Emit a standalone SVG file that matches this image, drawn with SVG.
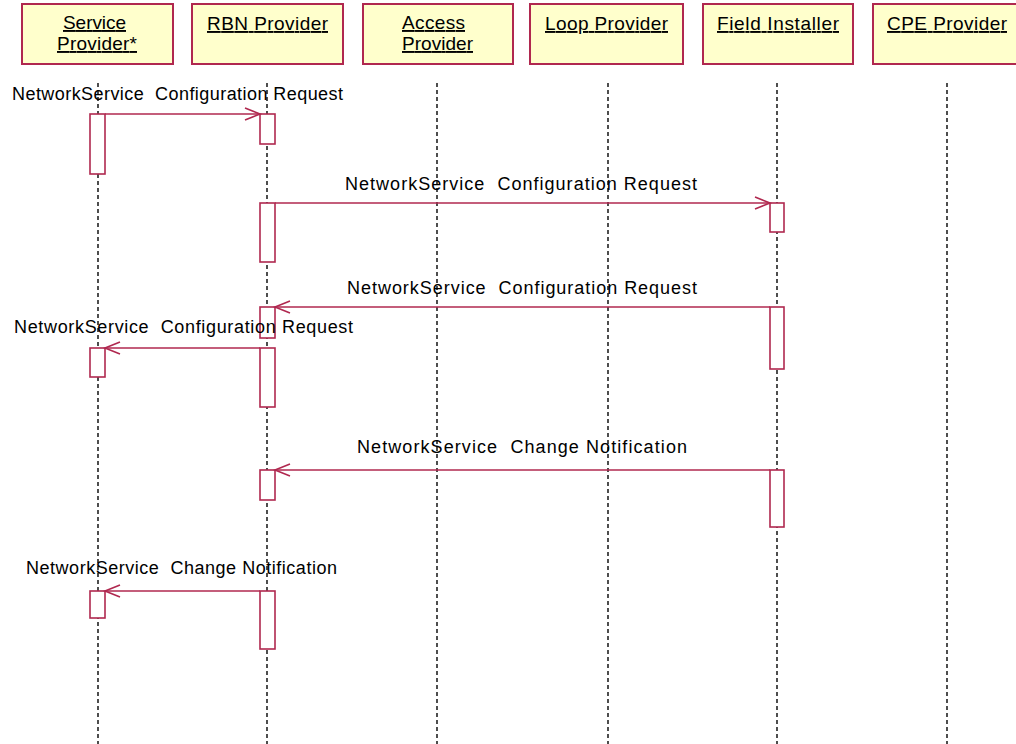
<svg xmlns="http://www.w3.org/2000/svg" width="1016" height="744" viewBox="0 0 1016 744">
<defs>
<style>
.hdr{fill:#FFFFCC;stroke:#B0284F;stroke-width:2}
.ht{font-family:"Liberation Sans",Arial,sans-serif;font-size:19px;fill:#000;text-decoration:underline}
.life{stroke:#222;stroke-width:1.6;stroke-dasharray:4 3;fill:none}
.act{fill:#fff;stroke:#B0284F;stroke-width:1.6}
.msg{stroke:#B0284F;stroke-width:1.6;fill:none;marker-end:url(#ah)}
.lbl{font-family:"Liberation Sans",Arial,sans-serif;font-size:18px;fill:#000;white-space:pre}
</style>
<marker id="ah" markerUnits="userSpaceOnUse" markerWidth="20" markerHeight="16" viewBox="-17 -8 20 16" refX="0" refY="0" orient="auto">
<path d="M-15,-6 L0,0 L-15,6" fill="none" stroke="#B0284F" stroke-width="1.6"/>
</marker>
</defs>
<rect width="1016" height="744" fill="#fff"/>

<g id="service-provider">
<rect class="hdr" x="22" y="4" width="151" height="60"/>
<text class="ht" x="63" y="29" textLength="63">Service</text>
<text class="ht" x="57" y="50" textLength="80">Provider*</text>
<line class="life" x1="98" y1="83" x2="98" y2="744"/>
<rect class="act" x="90" y="114" width="15" height="60"/>
<rect class="act" x="90" y="348" width="15" height="29"/>
<rect class="act" x="90" y="591" width="15" height="27"/>
</g>

<g id="rbn-provider">
<rect class="hdr" x="192" y="4" width="151" height="60"/>
<text class="ht" x="207" y="30" textLength="121">RBN Provider</text>
<line class="life" x1="267" y1="83" x2="267" y2="744"/>
<rect class="act" x="260" y="114" width="15" height="30"/>
<rect class="act" x="260" y="203" width="15" height="59"/>
<rect class="act" x="260" y="307" width="15" height="31"/>
<rect class="act" x="260" y="348" width="15" height="59"/>
<rect class="act" x="260" y="470" width="15" height="30"/>
<rect class="act" x="260" y="591" width="15" height="58"/>
</g>

<g id="access-provider">
<rect class="hdr" x="363" y="4" width="150" height="60"/>
<text class="ht" x="402" y="29" textLength="63">Access</text>
<text class="ht" x="402" y="50" textLength="71">Provider</text>
<line class="life" x1="437" y1="83" x2="437" y2="744"/>
</g>

<g id="loop-provider">
<rect class="hdr" x="530" y="4" width="153" height="60"/>
<text class="ht" x="545" y="30" textLength="123">Loop Provider</text>
<line class="life" x1="608" y1="83" x2="608" y2="744"/>
</g>

<g id="field-installer">
<rect class="hdr" x="703" y="4" width="150" height="60"/>
<text class="ht" x="717" y="30" textLength="122">Field Installer</text>
<line class="life" x1="777" y1="83" x2="777" y2="744"/>
<rect class="act" x="770" y="203" width="14" height="29"/>
<rect class="act" x="770" y="307" width="14" height="62"/>
<rect class="act" x="770" y="470" width="14" height="57"/>
</g>

<g id="cpe-provider">
<rect class="hdr" x="873" y="4" width="152" height="60"/>
<text class="ht" x="887" y="30" textLength="120">CPE Provider</text>
<line class="life" x1="947" y1="83" x2="947" y2="744"/>
</g>

<g id="connectors">
<line class="msg" x1="105" y1="114" x2="260" y2="114"/>
<text class="lbl" x="12" y="100" textLength="331">NetworkService  Configuration Request</text>

<line class="msg" x1="275" y1="203" x2="770" y2="203"/>
<text class="lbl" x="345" y="190" textLength="352">NetworkService  Configuration Request</text>

<line class="msg" x1="770" y1="307" x2="275" y2="307"/>
<text class="lbl" x="347" y="294" textLength="350">NetworkService  Configuration Request</text>

<line class="msg" x1="260" y1="348" x2="105" y2="348"/>
<text class="lbl" x="14" y="333" textLength="339">NetworkService  Configuration Request</text>

<line class="msg" x1="770" y1="470" x2="275" y2="470"/>
<text class="lbl" x="357" y="453" textLength="330">NetworkService  Change Notification</text>

<line class="msg" x1="260" y1="591" x2="105" y2="591"/>
<text class="lbl" x="26" y="574" textLength="311">NetworkService  Change Notification</text>
</g>
</svg>
